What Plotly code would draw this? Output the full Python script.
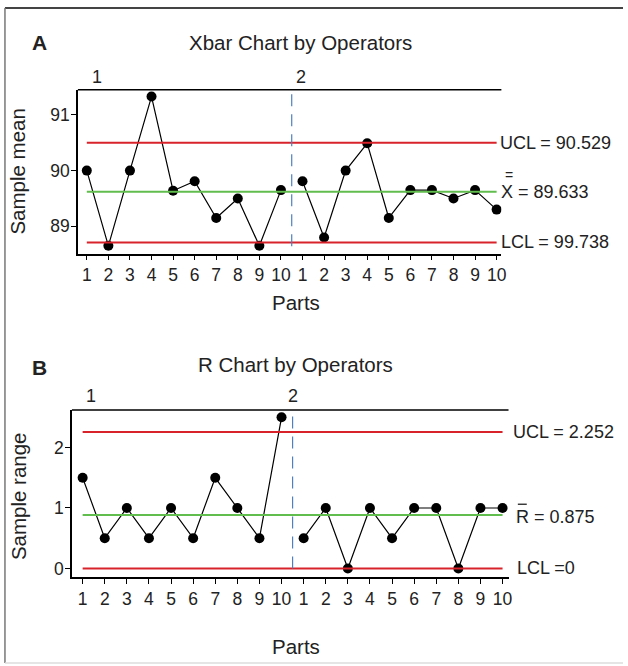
import plotly.graph_objects as go

# ---------------- data ----------------
parts_labels = [str(i) for i in range(1, 11)] * 2
part_pos_op1 = list(range(1, 11))
part_pos_op2 = list(range(11, 21))

xbar_op1 = [90.0, 88.65, 90.0, 91.33, 89.64, 89.81, 89.15, 89.5, 88.65, 89.65]
xbar_op2 = [89.81, 88.8, 90.0, 90.49, 89.15, 89.65, 89.65, 89.5, 89.65, 89.3]
xbar_ucl, xbar_cl, xbar_lcl = 90.50, 89.62, 88.71

r_op1 = [1.5, 0.5, 1.0, 0.5, 1.0, 0.5, 1.5, 1.0, 0.5, 2.5]
r_op2 = [0.5, 1.0, 0.0, 1.0, 0.5, 1.0, 1.0, 0.0, 1.0, 1.0]
r_ucl, r_cl, r_lcl = 2.258, 0.884, 0.0

operators = ["1", "2"]
xbar_labels = ["UCL = 90.529", "X = 89.633", "LCL = 99.738"]
r_labels = ["UCL = 2.252", "R = 0.875", "LCL =0"]

W, H = 628, 666
FONT = "Liberation Sans, Arial, sans-serif"
RED = "#d8232a"
GREEN = "#62bd4f"
BLUE = "#4f7fbf"
TXT = "#222222"


def px(x):
    return x / W


def py(y):
    return 1 - y / H


fig = go.Figure()

# ---------- Panel A ----------
for xs, ys in [(part_pos_op1, xbar_op1), (part_pos_op2, xbar_op2)]:
    fig.add_trace(go.Scatter(x=xs, y=ys, mode="lines+markers",
                             line=dict(color="black", width=1.2),
                             marker=dict(color="black", size=10),
                             xaxis="x", yaxis="y", showlegend=False))
for val, col in [(xbar_ucl, RED), (xbar_cl, GREEN), (xbar_lcl, RED)]:
    fig.add_trace(go.Scatter(x=[1, 20], y=[val, val], mode="lines",
                             line=dict(color=col, width=2),
                             xaxis="x", yaxis="y", showlegend=False))
fig.add_trace(go.Scatter(x=[10.5, 10.5], y=[88.64, 91.45], mode="lines",
                         line=dict(color=BLUE, width=1.2, dash="12px,8px"),
                         xaxis="x", yaxis="y", showlegend=False))

# ---------- Panel B ----------
for xs, ys in [(part_pos_op1, r_op1), (part_pos_op2, r_op2)]:
    fig.add_trace(go.Scatter(x=xs, y=ys, mode="lines+markers",
                             line=dict(color="black", width=1.2),
                             marker=dict(color="black", size=10),
                             xaxis="x2", yaxis="y2", showlegend=False))
for val, col in [(r_ucl, RED), (r_cl, GREEN), (r_lcl, RED)]:
    fig.add_trace(go.Scatter(x=[1, 20], y=[val, val], mode="lines",
                             line=dict(color=col, width=2),
                             xaxis="x2", yaxis="y2", showlegend=False))
fig.add_trace(go.Scatter(x=[10.5, 10.5], y=[0.0, 2.62], mode="lines",
                         line=dict(color=BLUE, width=1.2, dash="12px,8px"),
                         xaxis="x2", yaxis="y2", showlegend=False))

axis_common = dict(showline=True, linecolor="black", linewidth=1.5,
                   ticks="outside", ticklen=5, tickcolor="black", tickwidth=1.2,
                   showgrid=False, zeroline=False,
                   tickfont=dict(family=FONT, size=17.5, color=TXT))

fig.update_layout(
    width=W, height=H,
    margin=dict(l=0, r=0, t=0, b=0),
    paper_bgcolor="white", plot_bgcolor="white",
    xaxis=dict(domain=[px(78.5), px(505.4)], range=[0.586, 20.22],
               tickvals=part_pos_op1 + part_pos_op2, ticktext=parts_labels,
               anchor="y", **axis_common),
    yaxis=dict(domain=[py(254), py(90)], range=[88.51, 91.45],
               tickvals=[89, 90, 91], anchor="x", ticklabelstandoff=-2,
               **axis_common),
    xaxis2=dict(domain=[px(72.5), px(512.6)], range=[0.515, 20.27],
                tickvals=part_pos_op1 + part_pos_op2, ticktext=parts_labels,
                anchor="y2", **axis_common),
    yaxis2=dict(domain=[py(578.3), py(410.7)], range=[-0.149, 2.62],
                tickvals=[0, 1, 2], anchor="x2", ticklabelstandoff=-2,
                **axis_common),
)

shapes = [
    # top axis lines
    dict(type="line", xref="x domain", yref="y domain", x0=0, x1=1, y0=1, y1=1,
         line=dict(color="black", width=1.5)),
    dict(type="line", xref="x2 domain", yref="y2 domain", x0=0, x1=1, y0=1, y1=1,
         line=dict(color="black", width=1.5)),
    # figure frame
    dict(type="line", xref="paper", yref="paper", x0=px(5), x1=1, y0=py(8), y1=py(8),
         line=dict(color="#444444", width=2)),
    dict(type="line", xref="paper", yref="paper", x0=px(5), x1=px(5), y0=py(8), y1=py(664),
         line=dict(color="#777777", width=1.5)),
    dict(type="line", xref="paper", yref="paper", x0=px(5), x1=1, y0=py(664), y1=py(664),
         line=dict(color="#dddddd", width=1.5)),
    # overbar on R
    dict(type="line", xref="paper", yref="paper", x0=px(522), x1=px(531),
         y0=py(505), y1=py(505), line=dict(color=TXT, width=1.3)),
]
fig.update_layout(shapes=shapes)

ann = []


def T(text, x, y, size=18, xanchor="center", yanchor="middle", bold=False,
      xref="paper", yref="paper", angle=0, xshift=0):
    ann.append(dict(text=("<b>%s</b>" % text) if bold else text, x=x, y=y,
                    xref=xref, yref=yref, showarrow=False, xanchor=xanchor,
                    yanchor=yanchor, textangle=angle, xshift=xshift,
                    font=dict(family=FONT, size=size, color=TXT)))


# Panel A texts
T("A", px(40), py(43), size=21, bold=True)
T("Xbar Chart by Operators", px(303), py(43), size=20.5)
T(operators[0], px(98), py(77), size=18)
T(operators[1], px(303.6), py(77), size=18)
T("Sample mean", px(18), py(172), size=20.5, angle=-90)
T("Parts", px(298), py(303), size=20.5)
T(xbar_labels[0], px(506.5), xbar_ucl, size=18, xanchor="left", yref="y", xshift=-4)
T(xbar_labels[1], px(507), xbar_cl, size=18, xanchor="left", yref="y", xshift=-4)
T("=", px(513), py(175.5), size=14)
T(xbar_labels[2], px(507), xbar_lcl, size=18, xanchor="left", yref="y", xshift=-4)

# Panel B texts
T("B", px(40), py(368), size=21, bold=True)
T("R Chart by Operators", px(298), py(365), size=20.5)
T(operators[0], px(91.3), py(397), size=18)
T(operators[1], px(295.6), py(397), size=18)
T("Sample range", px(18), py(497), size=20.5, angle=-90)
T("Parts", px(298), py(647), size=20.5)
T(r_labels[0], px(519.4), r_ucl, size=18, xanchor="left", yref="y2", xshift=-4)
T(r_labels[1], px(521.7), py(518), size=18, xanchor="left", xshift=-4)
T(r_labels[2], px(523.3), r_lcl, size=18, xanchor="left", yref="y2", xshift=-4)

fig.update_layout(annotations=ann)

fig.write_html("out.html", config={"displayModeBar": False},
               post_script="document.body.style.margin='0';")
